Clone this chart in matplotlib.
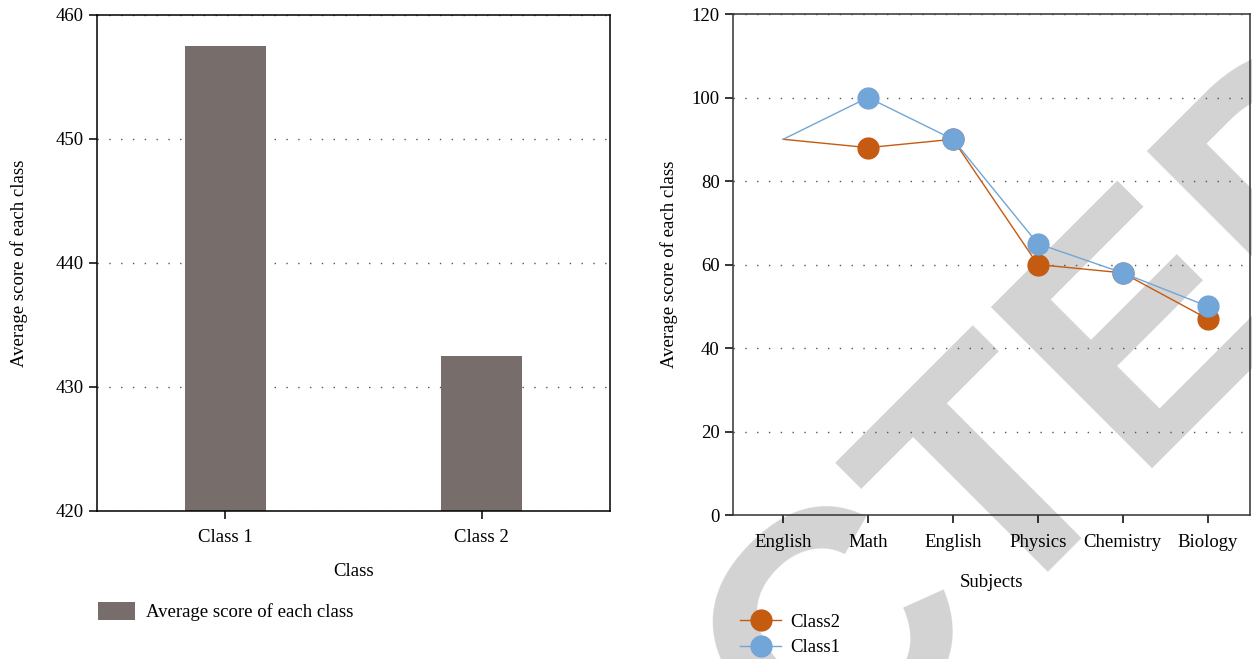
import matplotlib
matplotlib.use("Agg")
import matplotlib.pyplot as plt

plt.rcParams['font.family'] = ['Liberation Serif', 'DejaVu Serif']
plt.rcParams['font.size'] = 13.5

# datos del grafico de barras
clases = ['Class 1', 'Class 2']
promedio_clase = [457.5, 432.5]

# datos del grafico de lineas
materias = ['English', 'Math', 'English', 'Physics', 'Chemistry', 'Biology']
class2 = [90, 88, 90, 60, 58, 47]
class1 = [90, 100, 90, 65, 58, 50]

color_barra = '#776e6b'
color_c2 = '#c55a11'
color_c1 = '#72a5d8'
punteado = (0, (1, 7.5))

fig = plt.figure(figsize=(12.52, 6.59), dpi=100)

# marca de agua (solo se ve el final de la palabra)
fig.text(0.012, -1.404, 'RETRACTED', fontsize=238, fontweight='bold',
         family='Liberation Sans', color='#d3d3d3', rotation=45,
         rotation_mode='anchor', ha='left', va='baseline', zorder=-5)

# --- barras ---
ax1 = fig.add_axes([0.0775, 0.2246, 0.4097, 0.7527])
ax1.set_facecolor('none')
x = range(len(clases))
ax1.bar(x, promedio_clase, width=0.316, color=color_barra,
        label='Average score of each class', zorder=2)
ax1.set_xlim(-0.5, 1.5)
ax1.set_ylim(420, 460)
ax1.set_yticks([420, 430, 440, 450, 460])
ax1.set_xticks(list(x))
ax1.set_xticklabels(clases)
ax1.yaxis.grid(True, linestyle=punteado, color='#555555', linewidth=1)
ax1.set_axisbelow(True)
ax1.tick_params(direction='out', length=6, width=1.1)
ax1.tick_params(axis='x', pad=7)
for s in ax1.spines.values():
    s.set_linewidth(1.1)
ax1.set_xlabel('Class', labelpad=12)
ax1.set_ylabel('Average score of each class', labelpad=20)
ax1.legend(loc='upper left', bbox_to_anchor=(0.072, 0.098),
           bbox_transform=fig.transFigure, frameon=False,
           handlelength=2.0, handleheight=1.1, borderaxespad=0,
           handletextpad=0.6)

# --- lineas ---
ax2 = fig.add_axes([0.5855, 0.2185, 0.4129, 0.7602])
ax2.set_facecolor('none')
xi = range(len(materias))
ax2.plot(xi, class2, color=color_c2, linewidth=1, marker='o',
         markersize=15, markevery=list(range(1, 6)), label='Class2', zorder=3)
ax2.plot(xi, class1, color=color_c1, linewidth=1, marker='o',
         markersize=15, markevery=list(range(1, 6)), label='Class1', zorder=4)
ax2.set_xlim(-0.59, 5.5)
ax2.set_ylim(0, 120)
ax2.set_yticks(range(0, 121, 20))
ax2.set_xticks(list(xi))
ax2.set_xticklabels(materias)
ax2.yaxis.grid(True, linestyle=punteado, color='#555555', linewidth=1)
ax2.tick_params(direction='out', length=6, width=1.1)
ax2.tick_params(axis='x', pad=8)
for s in ax2.spines.values():
    s.set_linewidth(1.1)
    s.set_color('#333333')
ax2.set_xlabel('Subjects', labelpad=16)
ax2.set_ylabel('Average score of each class', labelpad=10)
ax2.legend(loc='upper left', bbox_to_anchor=(0.585, 0.080),
           bbox_transform=fig.transFigure, frameon=False,
           handlelength=2.2, borderaxespad=0, labelspacing=0.45,
           handletextpad=0.5)

fig.savefig('out.png', dpi=100)
